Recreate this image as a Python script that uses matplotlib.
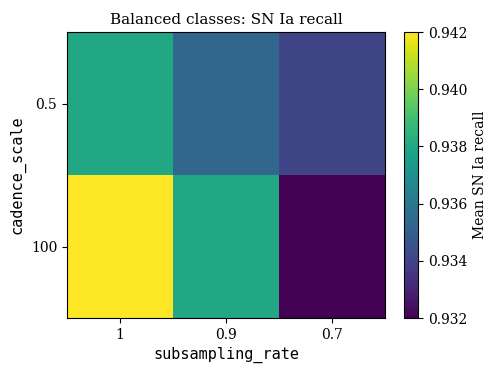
import numpy as np
import matplotlib
matplotlib.use("Agg")
import matplotlib.pyplot as plt

subsampling_rate = ["1", "0.9", "0.7"]
cadence_scale = ["0.5", "100"]
recall_05 = [0.9380, 0.9353, 0.9341]
recall_100 = [0.9420, 0.9380, 0.9320]

data = np.array([recall_05, recall_100])

fig = plt.figure(figsize=(4.98, 3.74), dpi=100)
ax = fig.add_axes([67/498, 1 - 318/374, 318/498, 286/374])
cax = fig.add_axes([404/498, 1 - 318/374, 14/498, 286/374])

im = ax.imshow(data, cmap="viridis", vmin=0.932, vmax=0.942, aspect="auto")
ax.set_xticks(range(len(subsampling_rate)))
ax.set_xticklabels(subsampling_rate, family="DejaVu Serif")
ax.set_yticks(range(len(cadence_scale)))
ax.set_yticklabels(cadence_scale, family="DejaVu Serif")
ax.set_xlabel("subsampling_rate", family="DejaVu Sans Mono", fontsize=11)
ax.set_ylabel("cadence_scale", family="DejaVu Sans Mono", fontsize=11)
ax.set_title("Balanced classes: SN Ia recall", family="DejaVu Serif", fontsize=11)

cb = fig.colorbar(im, cax=cax, ticks=[0.932, 0.934, 0.936, 0.938, 0.940, 0.942])
cb.ax.set_yticklabels(["0.932", "0.934", "0.936", "0.938", "0.940", "0.942"], family="DejaVu Serif")
cb.set_label("Mean SN Ia recall", family="DejaVu Serif")

fig.savefig("out.png", dpi=100)
